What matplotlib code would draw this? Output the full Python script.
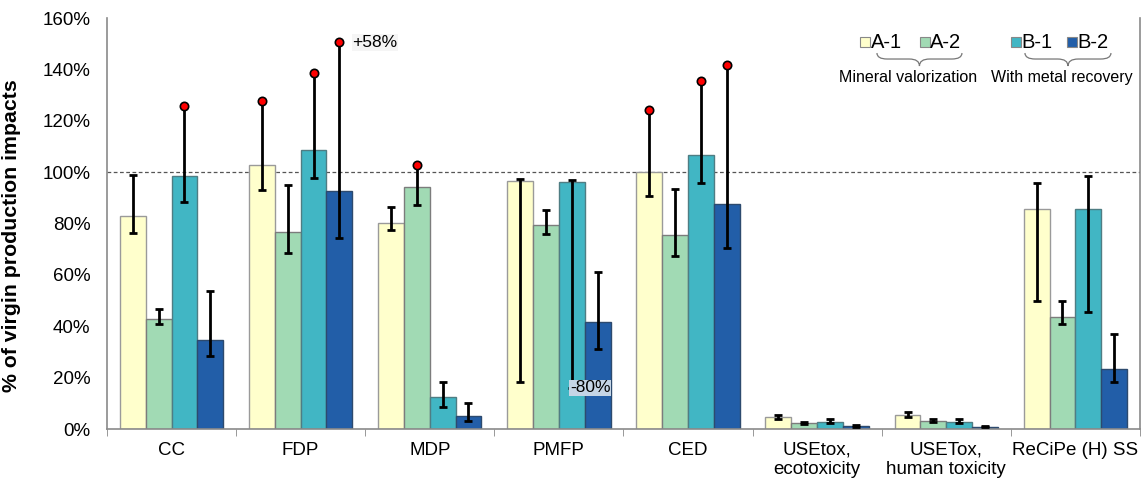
import numpy as np
import matplotlib
matplotlib.use("Agg")
import matplotlib.pyplot as plt
from matplotlib.path import Path
from matplotlib.patches import PathPatch

plt.rcParams['font.family'] = ['Liberation Sans', 'DejaVu Sans']

categories = ["CC", "FDP", "MDP", "PMFP", "CED",
              "USEtox,\necotoxicity", "USETox,\nhuman toxicity", "ReCiPe (H) SS"]
series = ["A-1", "A-2", "B-1", "B-2"]

# mean values (% of virgin production impacts)
a1 = [82.9, 102.9, 80.2, 96.4, 100.0, 4.7, 5.6, 85.6]
a2 = [42.9, 76.6, 94.3, 79.4, 75.4, 2.3, 3.2, 43.5]
b1 = [98.6, 108.7, 12.3, 96.0, 106.5, 2.8, 2.7, 85.6]
b2 = [34.6, 92.5, 5.2, 41.7, 87.6, 1.2, 0.9, 23.4]

# error bar extents below / above the mean
a1_minus = [6.6, 9.9, 2.6, 78.1, 9.3, 0.7, 0.8, 35.6]
a1_plus = [15.9, 24.6, 6.1, 0.9, 24.0, 0.9, 1.0, 10.1]
a2_minus = [2.2, 8.1, 7.0, 3.5, 8.0, 0.4, 0.5, 2.8]
a2_plus = [3.7, 18.2, 8.6, 5.8, 18.0, 0.4, 0.5, 6.5]
b1_minus = [10.4, 11.0, 3.7, 80.0, 10.8, 0.5, 0.5, 40.2]
b1_plus = [27.2, 29.9, 6.1, 0.9, 28.8, 1.1, 1.2, 13.0]
b2_minus = [6.1, 18.0, 2.2, 10.5, 17.1, 0.3, 0.3, 5.1]
b2_plus = [19.0, 58.0, 4.9, 19.4, 54.1, 0.3, 0.3, 13.4]

# upper bounds marked with a red dot
a1_dot = [0, 1, 0, 0, 1, 0, 0, 0]
a2_dot = [0, 0, 1, 0, 0, 0, 0, 0]
b1_dot = [1, 1, 0, 0, 1, 0, 0, 0]
b2_dot = [0, 1, 0, 0, 1, 0, 0, 0]

colors = ['#FFFFCC', '#A1DAB4', '#41B6C4', '#225EA8']
edges = ['#9a9a9a', '#7c7c7c', '#4f7d83', '#2d4a6e']

vals = [a1, a2, b1, b2]
minus = [a1_minus, a2_minus, b1_minus, b2_minus]
plus = [a1_plus, a2_plus, b1_plus, b2_plus]
dots = [a1_dot, a2_dot, b1_dot, b2_dot]

fig = plt.figure(figsize=(11.45, 4.83), dpi=100)
ax = fig.add_axes([0.0934, 0.1118, 0.9022, 0.8509])

x = np.arange(len(categories))
w = 0.2
for j in range(4):
    xs = x + (j - 1.5) * w
    v = np.array(vals[j])
    ax.bar(xs, v, width=w, color=colors[j], edgecolor=edges[j], linewidth=1, zorder=2)
    ax.errorbar(xs, v, yerr=[minus[j], plus[j]], fmt='none', ecolor='black',
                elinewidth=2, capsize=3, capthick=2, zorder=3)
    d = np.array(dots[j], dtype=bool)
    ax.plot(xs[d], (v + np.array(plus[j]))[d], 'o', color='red', mec='black',
            mew=1.2, ms=6, zorder=4)

# labels for the clipped extents
ax.text(x[1] + 1.5 * w + 0.1, b2[1] + b2_plus[1], "+58%", fontsize=12.5,
        va='center', ha='left', bbox=dict(fc='#f5f5f5', ec='none', pad=0.5), zorder=5)
ax.text(x[3] + 0.5 * w - 0.015, b1[3] - b1_minus[3], "-80%", fontsize=12.5,
        va='center', ha='left', bbox=dict(fc='#c5d5e6', ec='none', pad=0.5), zorder=5)

ax.axhline(100, color='#555555', lw=0.9, ls=(0, (3, 2)), zorder=1)

ax.set_xlim(-0.5, len(categories) - 0.5)
ax.set_ylim(0, 160)
ax.set_yticks(np.arange(0, 161, 20))
ax.set_yticklabels([f"{t}%" for t in range(0, 161, 20)], fontsize=13.5)
ax.set_xticks(x)
ax.set_xticklabels(categories, fontsize=13.5, linespacing=1.2)
ax.set_xticks(np.arange(-0.5, len(categories), 1), minor=True)
ax.tick_params(axis='x', which='major', length=0, pad=9)
ax.tick_params(axis='x', which='minor', length=5, color='#888888', direction='out')
ax.tick_params(axis='y', length=0, pad=12)
ax.set_ylabel("% of virgin production impacts", fontsize=15.3, fontweight='bold', labelpad=6)
ax.yaxis.set_label_coords(-0.083, 0.47)

ax.spines['top'].set_visible(False)
for s in ['left', 'right', 'bottom']:
    ax.spines[s].set_color('#8a8a8a')
    ax.spines[s].set_linewidth(1.2)

# legend drawn by hand, in pixel positions of the axes
x0_px, y0_px, wpx, hpx = 107, 429, 1033, 411


def ax_xy(px, py):
    return (px - x0_px) / wpx, (y0_px - py) / hpx


leg_sq = [865.5, 925, 1016, 1072.5]
for j, name in enumerate(series):
    sx, sy = ax_xy(leg_sq[j], 42)
    ax.plot(sx, sy, 's', ms=6.5, color=colors[j], mec='#888888', mew=0.8,
            transform=ax.transAxes, clip_on=False)
    tx, ty = ax_xy(leg_sq[j] + 5, 42)
    ax.text(tx, ty, name, fontsize=14.5, va='center', ha='left', transform=ax.transAxes)


def brace(xl, xr, ytop, ymid, ytip):
    xc = (xl + xr) / 2
    r = (xr - xl) * 0.12
    pts = [(xl, ytop), (xl, ymid), (xl + r, ymid), (xc - r, ymid), (xc, ymid), (xc, ytip),
           (xc, ymid), (xc + r, ymid), (xr - r, ymid), (xr, ymid), (xr, ytop)]
    pts = [ax_xy(px, py) for px, py in pts]
    codes = [Path.MOVETO, Path.CURVE3, Path.CURVE3, Path.LINETO, Path.CURVE3, Path.CURVE3,
             Path.CURVE3, Path.CURVE3, Path.LINETO, Path.CURVE3, Path.CURVE3]
    ax.add_patch(PathPatch(Path(pts, codes), fc='none', ec='#777777', lw=0.9,
                           transform=ax.transAxes, clip_on=False))


brace(877, 962, 53, 59, 66)
brace(1025, 1111, 53, 59, 66)
tx, ty = ax_xy(908, 77)
ax.text(tx, ty, "Mineral valorization", fontsize=11.5, ha='center', va='center',
        transform=ax.transAxes)
tx, ty = ax_xy(1062, 77)
ax.text(tx, ty, "With metal recovery", fontsize=11.5, ha='center', va='center',
        transform=ax.transAxes)

fig.savefig("out.png", dpi=100)
